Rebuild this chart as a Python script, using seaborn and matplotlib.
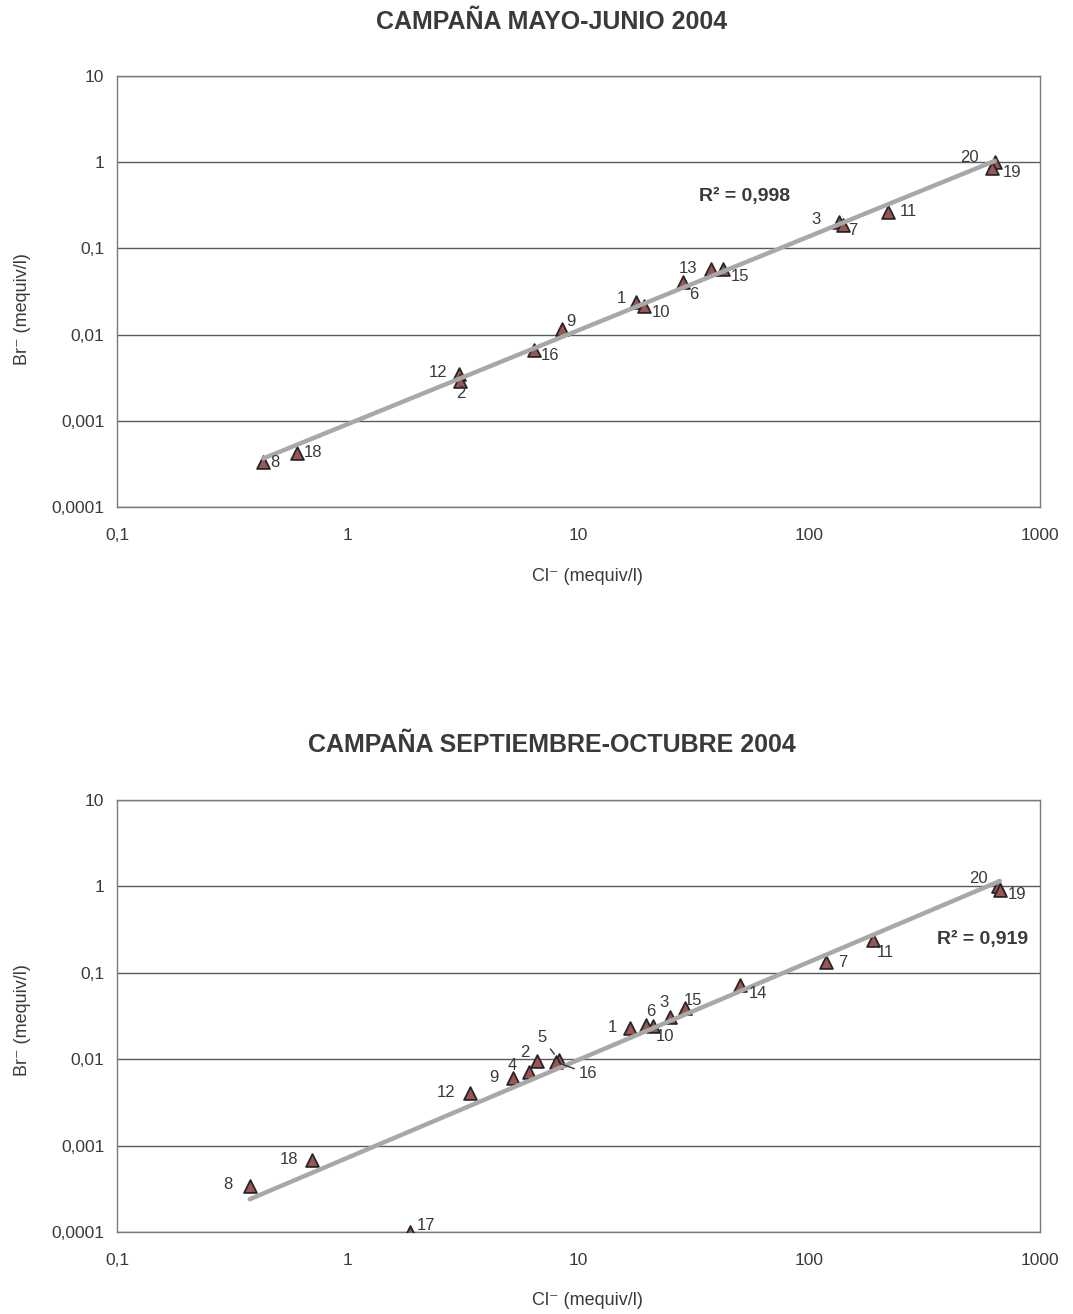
import numpy as np
import pandas as pd
import matplotlib
matplotlib.use("Agg")
import matplotlib.pyplot as plt
from matplotlib.ticker import FixedLocator, FixedFormatter, NullLocator
import seaborn as sns

# ---- Campaña mayo-junio 2004 ----
may_ids = ["8", "18", "12", "2", "16", "9", "1", "10", "6", "13", "15", "3", "7", "11", "20", "19"]
may_cl = [0.43, 0.60, 3.03, 3.08, 6.4, 8.5, 17.8, 19.2, 28.3, 37.7, 42.3, 135, 140, 220, 637, 617]
may_br = [0.00033, 0.00042, 0.0035, 0.0029, 0.0066, 0.0116, 0.024, 0.0215, 0.041, 0.058, 0.058,
          0.203, 0.186, 0.265, 1.0, 0.86]
may_r2 = "R² = 0,998"

# ---- Campaña septiembre-octubre 2004 ----
sep_ids = ["8", "18", "17", "12", "9", "4", "2", "5", "16", "1", "6", "10", "3", "15", "14",
           "7", "11", "20", "19"]
sep_cl = [0.376, 0.70, 1.87, 3.4, 5.2, 6.1, 6.6, 8.2, 8.0, 16.7, 19.7, 21.0, 24.9, 28.9, 50,
          118, 189, 658, 670]
sep_br = [0.00034, 0.00069, 0.0001, 0.0041, 0.0061, 0.0072, 0.0095, 0.0099, 0.0093, 0.023, 0.025,
          0.024, 0.031, 0.039, 0.073, 0.133, 0.239, 1.0, 0.92]
sep_r2 = "R² = 0,919"

x_ticks = [0.1, 1, 10, 100, 1000]
x_ticklabels = ["0,1", "1", "10", "100", "1000"]
y_ticks = [0.0001, 0.001, 0.01, 0.1, 1, 10]
y_ticklabels = ["0,0001", "0,001", "0,01", "0,1", "1", "10"]

# label offsets in pixels (dx, dy) relative to each marker
may_offsets = {"8": (12, 0), "18": (16, 1), "12": (-21, 1), "2": (0, -13), "16": (16, -5),
               "9": (9, 8), "1": (-15, 3), "10": (17, -7), "6": (11, -13), "13": (-23, 0),
               "15": (17, -8), "3": (-23, 2), "7": (10, -5), "11": (20, 0), "20": (-25, 5),
               "19": (20, -5)}
sep_offsets = {"8": (-22, 2), "18": (-23, 0), "17": (16, 6), "12": (-24, 0), "9": (-19, 0),
               "4": (-17, 6), "2": (-12, 9), "5": (-17, 22), "16": (32, -12), "1": (-18, 0),
               "6": (4, 13), "10": (12, -10), "3": (-6, 14), "15": (8, 8), "14": (18, -9),
               "7": (17, 0), "11": (12, -12), "20": (-20, 8), "19": (17, -5)}
sep_leaders = ["5", "16"]

sns.set_style("white")
plt.rcParams["font.family"] = ["Liberation Sans", "DejaVu Sans"]

W, H = 1073, 1314
fig = plt.figure(figsize=(W / 100, H / 100), dpi=100)
fig.patch.set_facecolor("white")

ax_top = fig.add_axes([117 / W, 1 - 507 / H, 923 / W, 431 / H])
ax_bot = fig.add_axes([117 / W, 1 - 1232 / H, 923 / W, 432 / H])

TEXT = "#3a3a3a"
MARK_FACE = "#9a5555"
MARK_EDGE = "#262626"


def draw_panel(ax, ids, cl, br, offsets, r2_text, r2_pos, lead):
    df = pd.DataFrame({"id": ids, "cl": cl, "br": br})
    ax.set_xscale("log")
    ax.set_yscale("log")

    # power-law trend line fitted in log-log space
    slope, icpt = np.polyfit(np.log10(df["cl"]), np.log10(df["br"]), 1)
    xs = np.geomspace(df["cl"].min(), df["cl"].max(), 60)
    trend = pd.DataFrame({"cl": xs, "br": 10 ** (icpt + slope * np.log10(xs))})

    sns.scatterplot(data=df, x="cl", y="br", marker="^", s=85, color=MARK_FACE,
                    edgecolor=MARK_EDGE, linewidth=1.3, ax=ax, zorder=3, legend=False)
    sns.lineplot(data=trend, x="cl", y="br", color="#a8a8a8", linewidth=3.2, ax=ax,
                 zorder=4, legend=False)

    for _, row in df.iterrows():
        dx, dy = offsets[row["id"]]
        kw = {}
        if row["id"] in lead:
            kw["arrowprops"] = dict(arrowstyle="-", color="#333333", lw=1.0,
                                    shrinkA=1, shrinkB=5)
        ax.annotate(row["id"], (row["cl"], row["br"]), xytext=(dx, dy),
                    textcoords="offset pixels", ha="center", va="center",
                    fontsize=12, color=TEXT, zorder=5, **kw)

    ax.text(r2_pos[0], r2_pos[1], r2_text, transform=ax.transAxes, ha="center",
            va="center", fontsize=14, fontweight="bold", color=TEXT)

    ax.set_xlim(0.1, 1000)
    ax.set_ylim(0.0001, 10)
    ax.xaxis.set_major_locator(FixedLocator(x_ticks))
    ax.xaxis.set_major_formatter(FixedFormatter(x_ticklabels))
    ax.yaxis.set_major_locator(FixedLocator(y_ticks))
    ax.yaxis.set_major_formatter(FixedFormatter(y_ticklabels))
    ax.xaxis.set_minor_locator(NullLocator())
    ax.yaxis.set_minor_locator(NullLocator())
    ax.tick_params(axis="both", which="major", direction="out", length=5, width=1,
                   color="#555555", labelsize=12.5, labelcolor=TEXT)
    ax.tick_params(axis="x", pad=10)
    ax.tick_params(axis="y", pad=4)
    ax.yaxis.grid(True, color="#5a5a5a", linewidth=1.0)
    ax.xaxis.grid(False)
    for sp in ax.spines.values():
        sp.set_color("#7a7a7a")
        sp.set_linewidth(1.0)
    ax.set_xlabel("Cl⁻ (mequiv/l)", fontsize=13, color=TEXT)
    ax.set_ylabel("Br⁻ (mequiv/l)", fontsize=13, color=TEXT)


draw_panel(ax_top, may_ids, may_cl, may_br, may_offsets, may_r2, (0.68, 0.72), [])
draw_panel(ax_bot, sep_ids, sep_cl, sep_br, sep_offsets, sep_r2, (0.938, 0.676),
           sep_leaders)

ax_top.xaxis.set_label_coords(0.51, -0.142)
ax_bot.xaxis.set_label_coords(0.51, -0.139)
ax_top.yaxis.set_label_coords(-0.093, 0.46)
ax_bot.yaxis.set_label_coords(-0.093, 0.49)

fig.text(552 / W, 1 - 22 / H, "CAMPAÑA MAYO-JUNIO 2004", ha="center", va="center",
         fontsize=18, fontweight="bold", color=TEXT)
fig.text(552 / W, 1 - 745 / H, "CAMPAÑA SEPTIEMBRE-OCTUBRE 2004", ha="center", va="center",
         fontsize=18, fontweight="bold", color=TEXT)

fig.savefig("out.png", dpi=100, facecolor="white")
